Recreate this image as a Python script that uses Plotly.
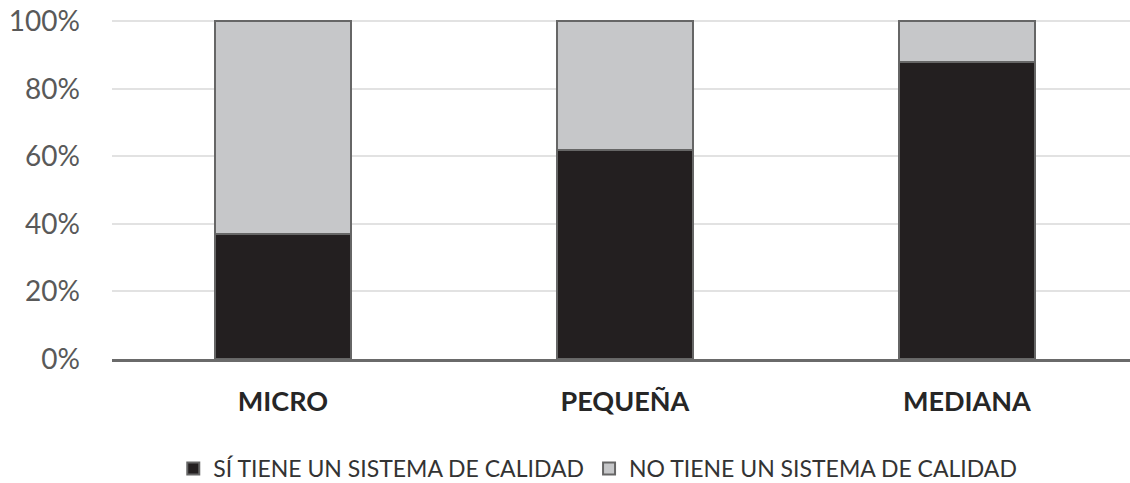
import plotly.graph_objects as go

# Company size categories and share of firms with / without a quality system (%)
categories = ["MICRO", "PEQUEÑA", "MEDIANA"]
si_tiene = [37, 62, 88]
no_tiene = [63, 38, 12]
series_names = ["SÍ TIENE UN SISTEMA DE CALIDAD", "NO TIENE UN SISTEMA DE CALIDAD"]
y_ticks = [0, 20, 40, 60, 80, 100]

fig = go.Figure()
fig.add_trace(go.Bar(
    x=categories, y=si_tiene, name=series_names[0],
    marker=dict(color="#231f20", line=dict(color="#666666", width=2)),
))
fig.add_trace(go.Bar(
    x=categories, y=no_tiene, name=series_names[1],
    marker=dict(color="#c6c7c9", line=dict(color="#666666", width=2)),
))

fig.update_layout(
    barmode="stack",
    bargap=0.6,
    width=1130, height=483,
    margin=dict(l=112, r=0, t=18, b=124),
    paper_bgcolor="white", plot_bgcolor="white",
    font=dict(family="Lato, 'Open Sans', sans-serif", color="#595959"),
    legend=dict(
        orientation="h", xref="container", yref="container",
        x=0.529, xanchor="center", y=0.03, yanchor="middle",
        font=dict(size=23, color="#333333"),
        itemwidth=30, traceorder="normal",
    ),
    showlegend=True,
)

fig.update_xaxes(
    range=[-0.5, 2.477],
    showline=True, linecolor="#6a6a6a", linewidth=2.5,
    ticks="", showgrid=False,
    tickfont=dict(size=27, color="#262626", family="Lato, sans-serif", weight="bold"),
    ticklabelstandoff=17,
)
fig.update_yaxes(
    range=[0, 101],
    tickvals=y_ticks, ticktext=[f"{v}%" for v in y_ticks],
    showgrid=True, gridcolor="#e2e2e2", gridwidth=1.5,
    zeroline=False, showline=False, ticks="",
    tickfont=dict(size=28, color="#595959"),
    ticklabelstandoff=31,
)

fig.write_html("out.html")
